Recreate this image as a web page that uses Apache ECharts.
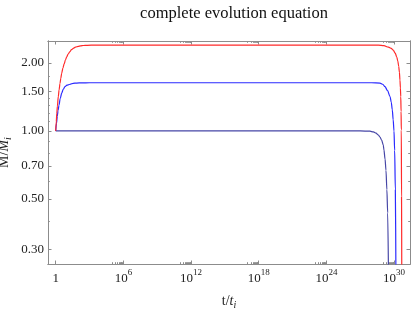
<!DOCTYPE html>
<html><head><meta charset="utf-8">
<script src="https://cdn.jsdelivr.net/npm/echarts@6/dist/echarts.min.js"></script>
<style>html,body{margin:0;padding:0;background:#fff}#c{width:417px;height:309px}</style>
</head><body><div id="c"></div>
<script>
// log10(t/t_i) exponents and M/M_i values
const redT  = [0, 0.05, 0.1, 0.15, 0.23, 0.3, 0.38, 0.45, 0.53, 0.64, 0.75, 0.86, 0.98, 1.1, 1.25, 1.4, 1.56, 1.75, 2.0, 2.2, 2.45, 2.8, 3.5, 15, 28.6, 29.1, 29.5, 29.75, 29.93, 30.1, 30.23, 30.33, 30.41, 30.47, 30.52, 30.56, 30.59, 30.62, 30.64, 30.66, 30.68];
const redM  = [1.00, 1.10, 1.20, 1.29, 1.42, 1.52, 1.62, 1.71, 1.80, 1.90, 1.98, 2.06, 2.13, 2.19, 2.24, 2.29, 2.32, 2.35, 2.37, 2.38, 2.39, 2.395, 2.40, 2.40, 2.40, 2.385, 2.35, 2.32, 2.28, 2.21, 2.13, 2.04, 1.93, 1.82, 1.68, 1.55, 1.42, 1.22, 1.01, 0.51, 0.24];
const blueT = [0, 0.07, 0.14, 0.21, 0.29, 0.4, 0.53, 0.67, 0.82, 1.0, 1.27, 1.55, 1.86, 2.3, 3, 15, 28.0, 28.75, 29.0, 29.19, 29.42, 29.64, 29.75, 29.84, 29.92, 29.99, 30.05, 30.11, 30.16];
const blueM = [1.00, 1.08, 1.16, 1.23, 1.30, 1.39, 1.47, 1.53, 1.57, 1.595, 1.61, 1.625, 1.63, 1.633, 1.635, 1.635, 1.635, 1.63, 1.61, 1.57, 1.51, 1.42, 1.34, 1.24, 1.12, 1.00, 0.82, 0.55, 0.24];
const navyT = [0, 15, 27.0, 27.86, 28.16, 28.4, 28.6, 28.75, 28.9, 29.04, 29.1, 29.2, 29.28, 29.36, 29.43, 29.5];
const navyM = [1.00, 1.00, 1.00, 0.998, 0.99, 0.978, 0.96, 0.94, 0.91, 0.867, 0.824, 0.75, 0.67, 0.55, 0.434, 0.24];

const xMajorExp = [0, 6, 12, 18, 24, 30];
const xTickLabels = ['{b|1}', '{b|10}{s|6}', '{b|10}{s|12}', '{b|10}{s|18}', '{b|10}{s|24}', '{b|10}{s|30}'];
const yMajor = [0.3, 0.5, 0.7, 1.0, 1.5, 2.0];
const yTickLabels = ['0.30', '0.50', '0.70', '1.00', '1.50', '2.00'];
const yMinor = [0.4, 0.6, 0.8, 0.9, 1.1, 1.2, 1.3, 1.4, 1.75];

const xMajor = xMajorExp.map(e => Math.pow(10, e));
const xMinor = [];
xMajorExp.slice(1).forEach(n => { for (let k = 1; k <= 9; k++) xMinor.push(k * Math.pow(10, n - 1)); });

const X_MIN = Math.pow(10, -0.683), X_MAX = Math.pow(10, 31.41);
const Y_MIN = 0.2577, Y_MAX = 2.502;
const FONT = 'Liberation Serif';
const AX = '#8c8c8c';

function pts(T, M) { return T.map((e, i) => [Math.pow(10, e), M[i]]); }

function xAx(pos, values, len, labels) {
  return {
    type: 'log', logBase: 10, position: pos, offset: 0, min: X_MIN, max: X_MAX,
    axisLine: { show: true, onZero: false, lineStyle: { color: AX, width: 1 } },
    axisTick: { show: true, inside: true, length: len, customValues: values, lineStyle: { color: AX, width: 1 } },
    axisLabel: labels ? {
      show: true, customValues: values, margin: 4, color: '#222', fontFamily: FONT, fontSize: 13,
      formatter: v => { const e = Math.round(Math.log10(v)); const i = xMajorExp.indexOf(e); return i >= 0 ? xTickLabels[i] : ''; },
      rich: { b: { fontSize: 13, fontFamily: FONT, color: '#222', verticalAlign: 'bottom', lineHeight: 17 },
              s: { fontSize: 9, fontFamily: FONT, color: '#222', verticalAlign: 'top', lineHeight: 17 } }
    } : { show: false },
    splitLine: { show: false }, minorTick: { show: false }, minorSplitLine: { show: false },
    name: labels ? 't/{it|t}{sub|i}' : '', nameLocation: 'middle', nameGap: 28, nameMoveOverlap: false,
    nameTextStyle: { fontFamily: FONT, fontSize: 14, color: '#222',
      rich: { it: { fontFamily: FONT, fontSize: 14, fontStyle: 'italic', color: '#222' },
              sub: { fontFamily: FONT, fontSize: 10, fontStyle: 'italic', color: '#222', verticalAlign: 'bottom', lineHeight: 18 } } }
  };
}
function yAx(pos, values, len, labels) {
  return {
    type: 'log', logBase: 10, position: pos, offset: 0, min: Y_MIN, max: Y_MAX,
    axisLine: { show: true, onZero: false, lineStyle: { color: AX, width: 1 } },
    axisTick: { show: true, inside: true, length: len, customValues: values, lineStyle: { color: AX, width: 1 } },
    axisLabel: labels ? {
      show: true, customValues: values, margin: 4, color: '#222', fontFamily: FONT, fontSize: 13,
      formatter: v => { let best = 0; yMajor.forEach((m, i) => { if (Math.abs(m - v) < Math.abs(yMajor[best] - v)) best = i; }); return yTickLabels[best]; }
    } : { show: false },
    splitLine: { show: false }, minorTick: { show: false }, minorSplitLine: { show: false },
    name: labels ? 'M/{it|M}{sub|i}' : '', nameLocation: 'middle', nameGap: 35, nameRotate: 90, nameMoveOverlap: false,
    nameTextStyle: { fontFamily: FONT, fontSize: 14, color: '#222',
      rich: { it: { fontFamily: FONT, fontSize: 14, fontStyle: 'italic', color: '#222' },
              sub: { fontFamily: FONT, fontSize: 10, fontStyle: 'italic', color: '#222', verticalAlign: 'bottom', lineHeight: 18 } } }
  };
}

const chart = echarts.init(document.getElementById('c'), null, { renderer: 'canvas' });
chart.setOption({
  animation: false,
  backgroundColor: '#fff',
  title: { text: 'complete evolution equation', left: 229, top: 0, textAlign: 'center',
    textStyle: { fontFamily: FONT, fontSize: 16.5, fontWeight: 'normal', color: '#111' } },
  grid: { left: 48, right: 7, top: 41, bottom: 45, show: false, containLabel: false, outerBoundsMode: 'none' },
  xAxis: [xAx('bottom', xMajor, 3.5, true), xAx('bottom', xMinor, 1.8, false),
          xAx('top', xMajor, 3.5, false), xAx('top', xMinor, 1.8, false)],
  yAxis: [yAx('left', yMajor, 3.5, true), yAx('left', yMinor, 1.8, false),
          yAx('right', yMajor, 3.5, false), yAx('right', yMinor, 1.8, false)],
  series: [
    { type: 'line', data: pts(navyT, navyM), showSymbol: false, smooth: 0.3, smoothMonotone: 'x', clip: true,
      lineStyle: { color: '#4646a6', width: 1.2 } },
    { type: 'line', data: pts(blueT, blueM), showSymbol: false, smooth: 0.3, smoothMonotone: 'x', clip: true,
      lineStyle: { color: '#2a2aff', width: 1.2 } },
    { type: 'line', data: pts(redT, redM), showSymbol: false, smooth: 0.3, smoothMonotone: 'x', clip: true,
      lineStyle: { color: '#ff2a2a', width: 1.2 } }
  ]
});
</script></body></html>
